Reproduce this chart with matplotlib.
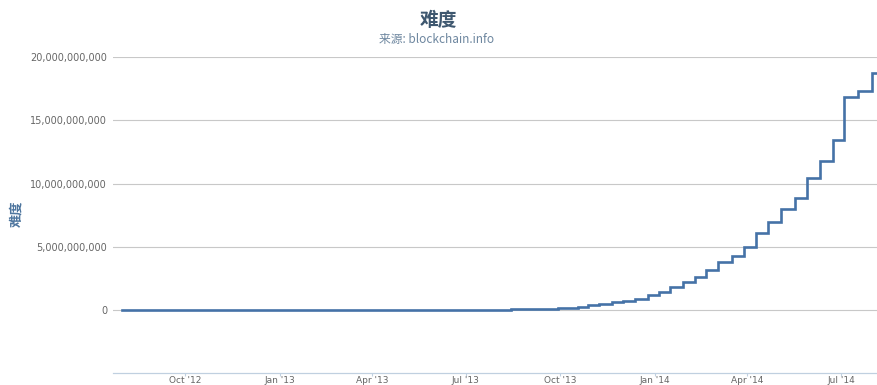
import matplotlib
matplotlib.use("Agg")
import matplotlib.pyplot as plt
from matplotlib.ticker import FuncFormatter
import numpy as np
import pandas as pd

# ---- data ----
dates = [
    "2012-08-01", "2012-08-10", "2012-08-22", "2012-09-04", "2012-09-17", "2012-10-01",
    "2012-10-15", "2012-10-29", "2012-11-12", "2012-11-25", "2012-12-08", "2012-12-22",
    "2013-01-05", "2013-01-19", "2013-02-02", "2013-02-16", "2013-03-01", "2013-03-12",
    "2013-03-24", "2013-04-05", "2013-04-17", "2013-04-29", "2013-05-11", "2013-05-23",
    "2013-06-04", "2013-06-16", "2013-06-29", "2013-07-11", "2013-07-22", "2013-08-03",
    "2013-08-14", "2013-08-25", "2013-09-05", "2013-09-17", "2013-09-29", "2013-10-08",
    "2013-10-18", "2013-10-28", "2013-11-08", "2013-11-20", "2013-12-01", "2013-12-13",
    "2013-12-25",
    "2014-01-05", "2014-01-16", "2014-01-28", "2014-02-09", "2014-02-20", "2014-03-03",
    "2014-03-17", "2014-03-29", "2014-04-09", "2014-04-21", "2014-05-04", "2014-05-17",
    "2014-05-29", "2014-06-11", "2014-06-23", "2014-07-04", "2014-07-18", "2014-07-31",
    "2014-08-05",
]
difficulty_billion = [
    0.00186, 0.00216, 0.00244, 0.00244, 0.00269, 0.00286,
    0.00305, 0.00300, 0.00337, 0.00358, 0.00344, 0.00337,
    0.00325, 0.00328, 0.00337, 0.00365, 0.00437, 0.00485,
    0.00670, 0.00767, 0.00897, 0.01008, 0.01119, 0.01215,
    0.01560, 0.01934, 0.02133, 0.02610, 0.03127, 0.03743,
    0.05080, 0.06575, 0.08690, 0.11256, 0.14884, 0.18904,
    0.26716, 0.39049, 0.51004, 0.60989, 0.70725, 0.90827,
    1.18018,
    1.41832, 1.78957, 2.19393, 2.62140, 3.12915, 3.81545,
    4.25053, 4.96060, 6.11935, 6.97857, 8.00037, 8.85362,
    10.45572, 11.75655, 13.46258, 16.81846, 17.33632, 18.73644,
    18.73644,
]
x_tick_dates = ["2012-10-01", "2013-01-01", "2013-04-01", "2013-07-01",
                "2013-10-01", "2014-01-01", "2014-04-01", "2014-07-01"]
x_tick_labels = ["Oct '12", "Jan '13", "Apr '13", "Jul '13",
                 "Oct '13", "Jan '14", "Apr '14", "Jul '14"]
y_ticks = [0, 5e9, 10e9, 15e9, 20e9]

title = "难度"
subtitle = "来源: blockchain.info"
y_title = "难度"

# ---- figure ----
plt.rcParams['font.family'] = ['DejaVu Sans']
cjk = ['Noto Sans CJK SC', 'DejaVu Sans']

W, H = 877, 385
fig = plt.figure(figsize=(W / 100, H / 100), dpi=100)
left_px, right_px, top_px, bottom_px = 113, 877, 57, 373.3
ax = fig.add_axes([left_px / W, 1 - bottom_px / H,
                   (right_px - left_px) / W, (bottom_px - top_px) / H])

x = pd.to_datetime(dates)
y = np.array(difficulty_billion) * 1e9
ax.step(x, y, where='post', color='#4572A7', lw=1.9, solid_joinstyle='miter', zorder=3)

ax.set_xlim(pd.Timestamp("2012-07-23"), pd.Timestamp("2014-08-05"))
ax.set_ylim(-5e9, 20e9)

ax.set_yticks(y_ticks)
ax.yaxis.set_major_formatter(FuncFormatter(lambda v, p: f"{int(round(v)):,}"))
ax.grid(axis='y', color='#C8C8C8', lw=0.8, zorder=0)
ax.tick_params(axis='y', length=0, pad=4.2, labelsize=7, labelcolor='#666666')

ax.set_xticks(pd.to_datetime(x_tick_dates))
ax.set_xticklabels(x_tick_labels)
ax.tick_params(axis='x', length=2.5, width=0.8, color='#C0D0E0', pad=-0.6,
               labelsize=6.5, labelcolor='#666666', direction='out')

for s in ['top', 'right', 'left']:
    ax.spines[s].set_visible(False)
ax.spines['bottom'].set_color('#C0D0E0')
ax.spines['bottom'].set_linewidth(0.9)

fig.text(438 / W, 1 - 20.5 / H, title, family=cjk, fontsize=13.5, fontweight='bold',
         color='#3E576F', ha='center', va='center')
fig.text(437 / W, 1 - 40 / H, subtitle, family=cjk, fontsize=8.5,
         color='#6D869F', ha='center', va='center')
fig.text(16 / W, 1 - 213.5 / H, y_title, family=cjk, fontsize=9.5, fontweight='bold',
         color='#4D759E', ha='center', va='center', rotation=90)

fig.savefig("out.png", dpi=100)
